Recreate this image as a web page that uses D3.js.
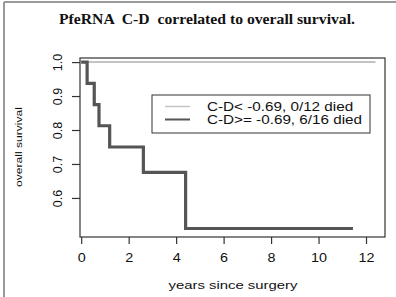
<!DOCTYPE html>
<html>
<head>
<meta charset="utf-8">
<script src="https://cdn.jsdelivr.net/npm/d3@7"></script>
<style>
  body { margin: 0; background: #fff; }
  svg { display: block; }
</style>
</head>
<body>
<div class="canvas"></div>
<script>
// data
const lowTimes = [0, 12.4];
const lowSurv = [1.0, 1.0];
const highTimes = [0, 0.25, 0.55, 0.75, 1.2, 2.62, 4.4, 11.45];
const highSurv = [1.0, 0.9375, 0.875, 0.8125, 0.75, 0.675, 0.51, 0.51];
const xTicks = [0, 2, 4, 6, 8, 10, 12];
const yTicks = [0.6, 0.7, 0.8, 0.9, 1.0];
const legendLabels = ["C-D< -0.69, 0/12 died", "C-D>= -0.69, 6/16 died"];

const dims = { width: 396, height: 297 };
const box = { left: 80, top: 58, right: 385, bottom: 237 };
const sans = "Liberation Sans, Arial, sans-serif";

const svg = d3
    .select(".canvas")
    .append("svg")
    .attr("width", dims.width)
    .attr("height", dims.height);

// the source picture is a bit wide, so text is stretched along its run
const stretch = (sel, factor) => {
    sel.each(function () {
        const w = this.getComputedTextLength();
        d3.select(this)
            .attr("textLength", w * factor)
            .attr("lengthAdjust", "spacingAndGlyphs");
    });
};

// outer frame (left and top edges only visible)
svg.append("line")
    .attr("x1", 4).attr("x2", 4).attr("y1", 2).attr("y2", dims.height)
    .attr("stroke", "#9a9a9a").attr("stroke-width", 2);
svg.append("line")
    .attr("x1", 4).attr("x2", dims.width).attr("y1", 2).attr("y2", 2)
    .attr("stroke", "#9a9a9a").attr("stroke-width", 2);

const x = d3.scaleLinear().domain([-0.05, 12.8]).range([box.left, box.right]);
const y = d3.scaleLinear().domain([0.485, 1.012]).range([box.bottom, box.top]);

// title
svg.append("text")
    .attr("x", 207).attr("y", 24)
    .attr("text-anchor", "middle")
    .attr("font-family", "Liberation Serif, serif")
    .attr("font-weight", "bold")
    .attr("font-size", 15)
    .attr("fill", "#111")
    .attr("xml:space", "preserve")
    .attr("textLength", 296)
    .attr("lengthAdjust", "spacingAndGlyphs")
    .text("PfeRNA  C-D  correlated to overall survival.");

// axes
const xAxis = svg.append("g")
    .attr("transform", `translate(0,${box.bottom})`)
    .call(d3.axisBottom(x).tickValues(xTicks).tickSize(7).tickPadding(7).tickFormat(d3.format("d")));
const yAxis = svg.append("g")
    .attr("transform", `translate(${box.left},0)`)
    .call(d3.axisLeft(y).tickValues(yTicks).tickSize(8).tickFormat(d3.format(".1f")));

[xAxis, yAxis].forEach((g) => {
    g.select(".domain").remove();
    g.selectAll("line").attr("stroke", "#333").attr("stroke-width", 1.2);
    g.selectAll("text")
        .attr("font-family", sans)
        .attr("font-size", 12.5)
        .attr("fill", "#111");
});

xAxis.selectAll("text").attr("dy", "0.9em");
stretch(xAxis.selectAll("text"), 1.15);

// rotated y tick labels (R style)
yAxis.selectAll(".tick text")
    .attr("x", null)
    .attr("text-anchor", "middle")
    .attr("transform", "translate(-22,0) rotate(-90)")
    .attr("dy", "0.35em");

// axis titles
svg.append("text")
    .attr("x", 233).attr("y", 289)
    .attr("text-anchor", "middle")
    .attr("font-family", sans)
    .attr("font-size", 11.5)
    .attr("fill", "#111")
    .attr("textLength", 129)
    .attr("lengthAdjust", "spacingAndGlyphs")
    .text("years since surgery");

svg.append("text")
    .attr("transform", "translate(22,147) rotate(-90)")
    .attr("text-anchor", "middle")
    .attr("font-family", sans)
    .attr("font-size", 9.5)
    .attr("fill", "#111")
    .attr("textLength", 80)
    .attr("lengthAdjust", "spacingAndGlyphs")
    .text("overall survival");

// survival curves
const line = d3.line()
    .x((d) => x(d[0]))
    .y((d) => y(d[1]))
    .curve(d3.curveStepAfter);

svg.append("path")
    .attr("d", line(d3.zip(lowTimes, lowSurv)))
    .attr("fill", "none")
    .attr("stroke", "#c4c4c4")
    .attr("stroke-width", 2);

svg.append("path")
    .attr("d", line(d3.zip(highTimes, highSurv)))
    .attr("fill", "none")
    .attr("stroke", "#555")
    .attr("stroke-width", 3.2);

// plot box
svg.append("rect")
    .attr("x", box.left).attr("y", box.top)
    .attr("width", box.right - box.left)
    .attr("height", box.bottom - box.top)
    .attr("fill", "none")
    .attr("stroke", "#333")
    .attr("stroke-width", 1.2);

// legend
const legend = svg.append("g").attr("transform", "translate(152,95)");
legend.append("rect")
    .attr("width", 218).attr("height", 38)
    .attr("fill", "#fff")
    .attr("stroke", "#333")
    .attr("stroke-width", 1);

const legendColors = ["#c4c4c4", "#555"];
legendLabels.forEach((lab, i) => {
    const ly = 11.5 + i * 13;
    legend.append("line")
        .attr("x1", 13).attr("x2", 38).attr("y1", ly).attr("y2", ly)
        .attr("stroke", legendColors[i])
        .attr("stroke-width", i === 0 ? 1.5 : 2);
    legend.append("text")
        .attr("x", 55).attr("y", ly)
        .attr("dy", "0.35em")
        .attr("font-family", sans)
        .attr("font-size", 12)
        .attr("fill", "#111")
        .text(lab);
});
stretch(legend.selectAll("text"), 1.27);
</script>
</body>
</html>
